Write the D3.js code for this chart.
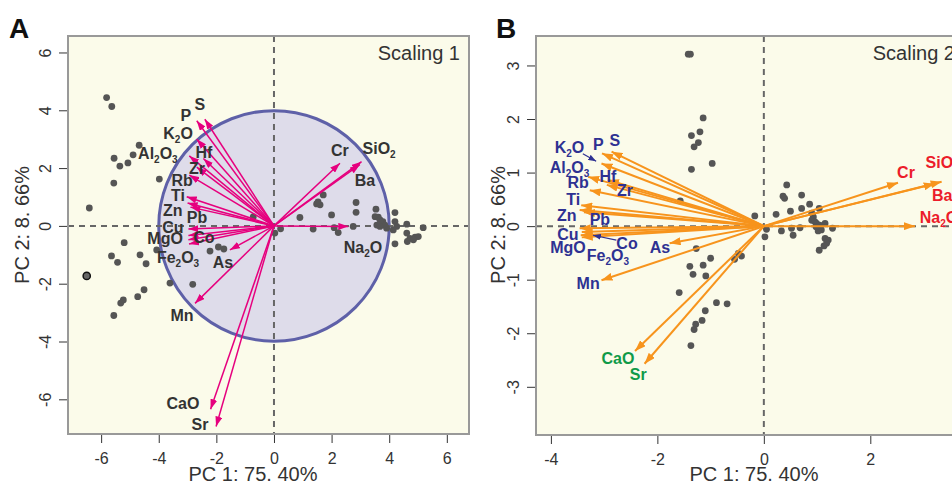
<!DOCTYPE html>
<html>
<head>
<meta charset="utf-8">
<script src="https://cdn.jsdelivr.net/npm/d3@7"></script>
<style>
  body { margin: 0; background: #fff; }
  svg { display: block; font-family: Arial, "Liberation Sans", Helvetica, sans-serif; }
</style>
</head>
<body>
<svg width="952" height="481"></svg>
<script>
// variables (same order in both panels)
var varNames = ["S","P","K2O","Al2O3","Hf","Zr","Rb","Ti","Zn","Pb","Cu","MgO","Co","Fe2O3","As","Mn","CaO","Sr","Cr","SiO2","Ba","Na2O"];
// B label colour group: 0 = negative PC1, 1 = CaO/Sr, 2 = positive PC1
var varGroup = [0,0,0,0,0,0,0,0,0,0,0,0,0,0,0,0,1,1,2,2,2,2];

// scaling 1 loadings
var s1x = [-2.40,-2.68,-2.68,-2.94,-2.45,-2.68,-2.94,-3.03,-3.00,-2.90,-2.97,-2.97,-2.97,-2.95,-1.53,-2.74,-2.20,-2.01,2.29,3.04,2.98,2.58];
var s1y = [3.69,3.64,3.00,2.42,2.33,2.03,1.76,1.01,0.79,0.65,-0.11,-0.33,-0.48,-0.63,-0.83,-2.68,-6.34,-6.94,2.17,2.22,2.12,-0.02];

// scaling 2 loadings
var s2x = [-2.86,-3.04,-3.05,-3.30,-2.93,-2.95,-3.27,-3.43,-3.46,-3.38,-3.46,-3.44,-3.42,-3.42,-1.77,-3.05,-2.42,-2.24,2.52,3.34,3.21,2.84];
var s2y = [1.39,1.36,1.17,0.92,0.86,0.77,0.67,0.39,0.30,0.26,-0.04,-0.17,-0.11,-0.21,-0.32,-1.01,-2.33,-2.57,0.81,0.83,0.79,0.00];

// sample scores, scaling 1
var p1x = [-5.81,-5.63,-4.68,-5.55,-4.89,-5.35,-5.07,-5.56,-3.98,-6.41,-0.72,0.23,0.03,
  1.71,1.48,1.60,1.53,0.90,2.00,2.85,2.85,3.54,3.51,3.62,3.68,3.78,3.85,3.91,4.20,4.20,4.26,4.14,4.61,5.18,
  4.61,4.72,4.90,5.01,4.84,4.20,1.36,2.09,2.23,2.75,3.57,3.68,4.63,
  -5.20,-5.64,-5.43,-4.65,-4.44,-4.07,-2.22,-1.93,-1.74,-3.61,-2.82,-4.51,-4.73,-5.23,-5.32,-5.56];
var p1y = [4.44,4.13,2.79,2.34,2.46,2.07,2.18,1.48,1.62,0.62,0.31,-0.10,-0.25,
  1.07,0.76,0.73,0.83,0.29,0.38,0.81,0.47,0.58,0.32,0.30,0.21,0.15,0.03,-0.08,0.46,0.15,-0.02,-0.14,0.06,-0.06,
  -0.25,-0.43,-0.39,-0.37,-0.48,-0.62,-0.11,-0.06,-0.23,-0.02,0.03,-0.02,-0.54,
  -0.58,-1.04,-1.26,-1.00,-1.31,-0.83,-0.87,-0.73,-0.80,-1.98,-2.02,-2.21,-2.45,-2.56,-2.67,-3.10];
// the ringed sample
var ring1 = [-6.50, -1.73];

// sample scores, scaling 2
var p2x = [-1.42,-1.38,-1.14,-1.36,-1.20,-1.31,-1.23,-0.97,-1.36,-1.57,-0.17,
  0.43,0.36,0.39,0.71,0.86,1.04,0.23,0.50,0.71,0.90,0.93,0.90,0.96,0.99,1.05,1.08,1.02,0.98,1.15,1.29,
  0.05,0.33,0.52,0.68,0.55,0.02,1.15,1.21,1.18,1.13,1.04,
  -1.27,-1.00,-1.39,-1.14,-1.33,-1.09,-1.59,-0.89,-0.69,-1.10,-1.16,-1.28,-1.31,-1.37,-0.48,-0.42,-0.55];
var p2y = [3.21,3.21,2.02,1.69,1.76,1.48,1.56,1.17,1.06,0.47,0.19,
  0.77,0.56,0.52,0.58,0.41,0.33,0.22,0.28,0.33,0.24,0.17,0.11,0.08,0.05,0.02,-0.07,-0.09,-0.01,0.05,-0.04,
  -0.06,-0.09,-0.04,-0.03,-0.17,-0.20,-0.23,-0.26,-0.32,-0.37,-0.45,
  -0.42,-0.60,-0.75,-0.73,-0.90,-0.93,-1.24,-1.43,-1.45,-1.58,-1.76,-1.83,-1.93,-2.23,-0.51,-0.56,-0.62];

// label spots (data units)
var lab1x = [-2.57,-3.06,-3.33,-4.03,-2.43,-2.67,-3.19,-3.33,-3.51,-2.67,-3.51,-3.78,-2.43,-3.33,-1.77,-3.19,-3.16,-2.57,2.29,3.65,3.16,3.09];
var lab1y = [4.22,3.84,3.22,2.53,2.56,2.01,1.59,1.07,0.55,0.31,-0.03,-0.42,-0.38,-1.07,-1.25,-3.08,-6.12,-6.85,2.63,2.70,1.59,-0.73];
var lab2x = [-2.80,-3.11,-3.65,-3.65,-2.93,-2.61,-3.49,-3.58,-3.70,-3.08,-3.68,-3.68,-2.57,-2.93,-1.95,-3.30,-2.74,-2.36,2.67,3.35,3.35,3.29];
var lab2y = [1.61,1.53,1.48,1.11,0.93,0.67,0.82,0.50,0.21,0.13,-0.14,-0.39,-0.32,-0.54,-0.39,-1.07,-2.46,-2.77,1.01,1.20,0.58,0.17];
// small pointer arrows in B: [x1,y1,x2,y2] for K2O and Co
var pointers2 = [[-3.40,1.35,-3.15,1.21],[-2.77,-0.26,-3.21,-0.17]];

var ticks1 = [-6,-4,-2,0,2,4,6];
var ticks2x = [-4,-2,0,2];
var ticks2y = [-3,-2,-1,0,1,2,3];

var svg = d3.select("svg");
var groupColor = ["#2e3192","#0f9a48","#ec1c2a"];

var defs = svg.append("defs");
function marker(id, color, len, wid) {
  defs.append("marker")
      .attr("id", id)
      .attr("markerUnits", "userSpaceOnUse")
      .attr("markerWidth", len).attr("markerHeight", wid)
      .attr("refX", len).attr("refY", wid / 2)
      .attr("orient", "auto")
    .append("path")
      .attr("d", "M0,0L" + len + "," + (wid / 2) + "L0," + wid + "Z")
      .attr("fill", color);
}
marker("headPink", "#e6007e", 10, 7);
marker("headOrange", "#f7941d", 11, 8);
marker("headNavy", "#2e3192", 8, 6);

function addLabel(g, name, x, y, color) {
  var t = g.append("text")
      .attr("x", x).attr("y", y + 6)
      .attr("text-anchor", "middle")
      .attr("font-size", 16)
      .attr("font-weight", "bold")
      .attr("fill", color);
  var parts = name.match(/[A-Za-z]+|\d+/g);
  var down = false;
  parts.forEach(function(p) {
    if (/\d/.test(p)) {
      t.append("tspan").attr("dy", 4).attr("font-size", 10).text(p);
      down = true;
    } else {
      var s = t.append("tspan").text(p);
      if (down) { s.attr("dy", -4); down = false; }
    }
  });
}

function panel(opt) {
  var x = d3.scaleLinear().domain(opt.xd).range([opt.left, opt.right]);
  var y = d3.scaleLinear().domain(opt.yd).range([opt.bottom, opt.top]);
  var g = svg.append("g");

  g.append("rect")
      .attr("x", opt.left).attr("y", opt.top)
      .attr("width", opt.right - opt.left).attr("height", opt.bottom - opt.top)
      .attr("fill", "#fbfbea");

  if (opt.circle) {
    g.append("circle")
        .attr("cx", x(0)).attr("cy", y(0))
        .attr("r", x(opt.circle) - x(0))
        .attr("fill", "#dedcea")
        .attr("stroke", "#5e60a8")
        .attr("stroke-width", 3);
  }

  // dashed zero lines
  g.append("line")
      .attr("x1", x(0)).attr("x2", x(0)).attr("y1", opt.top).attr("y2", opt.bottom)
      .attr("stroke", "#666").attr("stroke-width", 2).attr("stroke-dasharray", "6,5");
  g.append("line")
      .attr("x1", opt.left).attr("x2", opt.right).attr("y1", y(0)).attr("y2", y(0))
      .attr("stroke", "#666").attr("stroke-width", 2).attr("stroke-dasharray", "6,5");

  // samples
  g.append("g").selectAll("circle")
    .data(d3.range(opt.px.length))
    .enter().append("circle")
      .attr("cx", function(i) { return x(opt.px[i]); })
      .attr("cy", function(i) { return y(opt.py[i]); })
      .attr("r", 3.4)
      .attr("fill", "#555");
  if (opt.ring) {
    g.append("circle")
        .attr("cx", x(opt.ring[0])).attr("cy", y(opt.ring[1]))
        .attr("r", 3.6)
        .attr("fill", "#666").attr("stroke", "#111").attr("stroke-width", 1.5);
  }

  // loadings
  g.append("g").selectAll("line")
    .data(d3.range(varNames.length))
    .enter().append("line")
      .attr("x1", x(0)).attr("y1", y(0))
      .attr("x2", function(i) { return x(opt.lx[i]); })
      .attr("y2", function(i) { return y(opt.ly[i]); })
      .attr("stroke", opt.arrowColor)
      .attr("stroke-width", opt.arrowWidth)
      .attr("marker-end", "url(#" + opt.head + ")");

  if (opt.pointers) {
    opt.pointers.forEach(function(p) {
      g.append("line")
          .attr("x1", x(p[0])).attr("y1", y(p[1]))
          .attr("x2", x(p[2])).attr("y2", y(p[3]))
          .attr("stroke", "#2e3192").attr("stroke-width", 1.2)
          .attr("marker-end", "url(#headNavy)");
    });
  }

  varNames.forEach(function(n, i) {
    addLabel(g, n, x(opt.tx[i]), y(opt.ty[i]), opt.labelColor(i));
  });

  // frame
  g.append("rect")
      .attr("x", opt.left).attr("y", opt.top)
      .attr("width", opt.right - opt.left).attr("height", opt.bottom - opt.top)
      .attr("fill", "none").attr("stroke", "#999").attr("stroke-width", 2);

  // axes (plain hyphen for negatives, as in the original)
  var fmt = function(d) { return String(d); };
  var ax = g.append("g")
      .attr("transform", "translate(0," + (opt.bottom + 1) + ")")
      .call(d3.axisBottom(x).tickValues(opt.xt).tickSize(8).tickPadding(10).tickFormat(fmt));
  var ay = g.append("g")
      .attr("transform", "translate(" + (opt.left - 1) + ",0)")
      .call(d3.axisLeft(y).tickValues(opt.yt).tickSize(8).tickFormat(fmt));
  [ax, ay].forEach(function(a) {
    a.select(".domain").remove();
    a.selectAll("line").attr("stroke", "#333");
    a.selectAll("text").attr("font-size", 16).attr("fill", "#333")
        .attr("font-family", "Arial, 'Liberation Sans', sans-serif");
  });
  ay.selectAll("text")
      .attr("x", 0).attr("dy", 0)
      .attr("text-anchor", "middle")
      .attr("transform", "translate(-16,0) rotate(-90)");

  g.append("text")
      .attr("x", opt.xlabX).attr("y", 481)
      .attr("text-anchor", "middle").attr("font-size", 20).attr("fill", "#333")
      .text("PC 1: 75. 40%");
  g.append("text")
      .attr("transform", "translate(" + opt.ylabX + ",225) rotate(-90)")
      .attr("text-anchor", "middle").attr("font-size", 20).attr("fill", "#333")
      .text("PC 2: 8. 66%");

  g.append("text")
      .attr("x", opt.right - 9).attr("y", 60)
      .attr("text-anchor", "end").attr("font-size", 20).attr("fill", "#333")
      .text(opt.title);
  g.append("text")
      .attr("x", opt.tagX).attr("y", 38)
      .attr("font-size", 28).attr("font-weight", "bold").attr("fill", "#111")
      .text(opt.tag);
}

panel({
  left: 68, right: 469, top: 36, bottom: 434,
  xd: [-7.15, 6.77], yd: [-7.2, 6.57],
  xt: ticks1, yt: ticks1,
  circle: 4,
  px: p1x, py: p1y, ring: ring1,
  lx: s1x, ly: s1y, tx: lab1x, ty: lab1y,
  arrowColor: "#e6007e", arrowWidth: 1.5, head: "headPink",
  labelColor: function() { return "#333"; },
  xlabX: 253, ylabX: 29,
  title: "Scaling 1", tag: "A", tagX: 9
});

panel({
  left: 536, right: 964, top: 36, bottom: 435,
  xd: [-4.28, 3.76], yd: [-3.9, 3.55],
  xt: ticks2x, yt: ticks2y,
  px: p2x, py: p2y,
  lx: s2x, ly: s2y, tx: lab2x, ty: lab2y,
  pointers: pointers2,
  arrowColor: "#f7941d", arrowWidth: 2, head: "headOrange",
  labelColor: function(i) { return groupColor[varGroup[i]]; },
  xlabX: 754, ylabX: 505,
  title: "Scaling 2", tag: "B", tagX: 496
});
</script>
</body>
</html>
